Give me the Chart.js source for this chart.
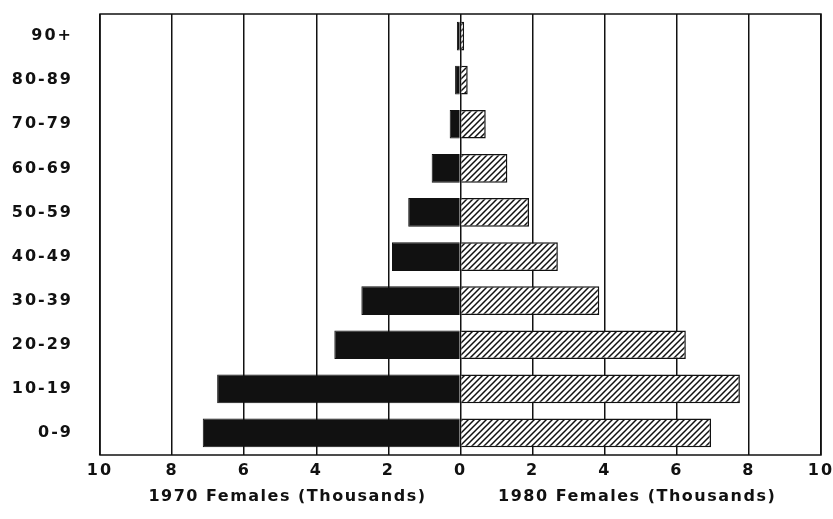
<!DOCTYPE html>
<html>
<head>
<meta charset="utf-8">
<script src="https://cdn.jsdelivr.net/npm/chart.js@4.4.1/dist/chart.umd.min.js"></script>
<style>
  html, body { margin: 0; padding: 0; background: #fff; }
  #wrap { width: 833px; height: 519px; }
</style>
</head>
<body>
<div id="wrap"><canvas id="pyramid" width="833" height="519"></canvas></div>
<script>
const ageGroups = ['90+', '80-89', '70-79', '60-69', '50-59', '40-49', '30-39', '20-29', '10-19', '0-9'];
const females1970 = [0.1, 0.15, 0.3, 0.8, 1.45, 1.9, 2.75, 3.5, 6.75, 7.15];
const females1980 = [0.1, 0.2, 0.7, 1.3, 1.9, 2.7, 3.85, 6.25, 7.75, 6.95];
const leftTitle = '1970 Females (Thousands)';
const rightTitle = '1980 Females (Thousands)';

const ink = '#111';
const labelFont = { family: 'DejaVu Sans', weight: 'bold', size: 16 };

// diagonal hatch for the 1980 bars
function hatch() {
    const c = document.createElement('canvas');
    c.width = 6; c.height = 6;
    const g = c.getContext('2d');
    g.fillStyle = '#fff';
    g.fillRect(0, 0, 6, 6);
    g.strokeStyle = ink;
    g.lineWidth = 1.5;
    g.beginPath();
    g.moveTo(0, 6); g.lineTo(6, 0);
    g.moveTo(-1, 1); g.lineTo(1, -1);
    g.moveTo(5, 7); g.lineTo(7, 5);
    g.stroke();
    return g.createPattern(c, 'repeat');
}

// the scanned font is wide, so stretch the text a little
const spacing = {
    id: 'spacing',
    beforeLayout(chart) { chart.ctx.letterSpacing = '2px'; },
    beforeDraw(chart) { chart.ctx.letterSpacing = '2px'; }
};

const frameAndTitles = {
    id: 'frameAndTitles',
    afterDraw(chart) {
        const { ctx, chartArea: a, scales } = chart;
        ctx.save();
        ctx.strokeStyle = ink;
        ctx.lineWidth = 1.5;
        ctx.strokeRect(a.left, a.top, a.right - a.left, a.bottom - a.top);
        ctx.fillStyle = ink;
        ctx.font = 'bold 16px "DejaVu Sans"';
        ctx.letterSpacing = '1.5px';
        ctx.textAlign = 'center';
        ctx.textBaseline = 'middle';
        ctx.fillText(leftTitle, scales.x.getPixelForValue(-4.8), 497);
        ctx.fillText(rightTitle, scales.x.getPixelForValue(4.9), 497);
        ctx.restore();
    }
};

new Chart(document.getElementById('pyramid'), {
    type: 'bar',
    data: {
        labels: ageGroups,
        datasets: [{
            label: '1970',
            data: females1970.map(v => -v),
            backgroundColor: ink,
            borderColor: ink,
            borderWidth: 1,
            barPercentage: 0.65,
            categoryPercentage: 1
        }, {
            label: '1980',
            data: females1980,
            backgroundColor: hatch(),
            borderColor: ink,
            borderWidth: 1.5,
            barPercentage: 0.65,
            categoryPercentage: 1
        }]
    },
    options: {
        indexAxis: 'y',
        responsive: false,
        animation: false,
        layout: { padding: { left: 8, right: 12, top: 14, bottom: 34 } },
        plugins: { legend: { display: false }, tooltip: { enabled: false } },
        scales: {
            x: {
                stacked: true,
                min: -10, max: 10,
                afterFit: s => { s.height = 30; s.paddingLeft = 0; s.paddingRight = 0; },
                ticks: {
                    stepSize: 2,
                    color: ink,
                    font: labelFont,
                    padding: 6,
                    callback: v => Math.abs(v)
                },
                grid: { color: ink, lineWidth: 1.5, drawTicks: false },
                border: { display: false }
            },
            y: {
                stacked: true,
                afterFit: s => { s.width = 92; s.paddingTop = 0; s.paddingBottom = 0; },
                ticks: { color: ink, font: labelFont, padding: 27 },
                grid: { display: false, drawTicks: false },
                border: { display: false }
            }
        }
    },
    plugins: [spacing, frameAndTitles]
});
</script>
</body>
</html>
